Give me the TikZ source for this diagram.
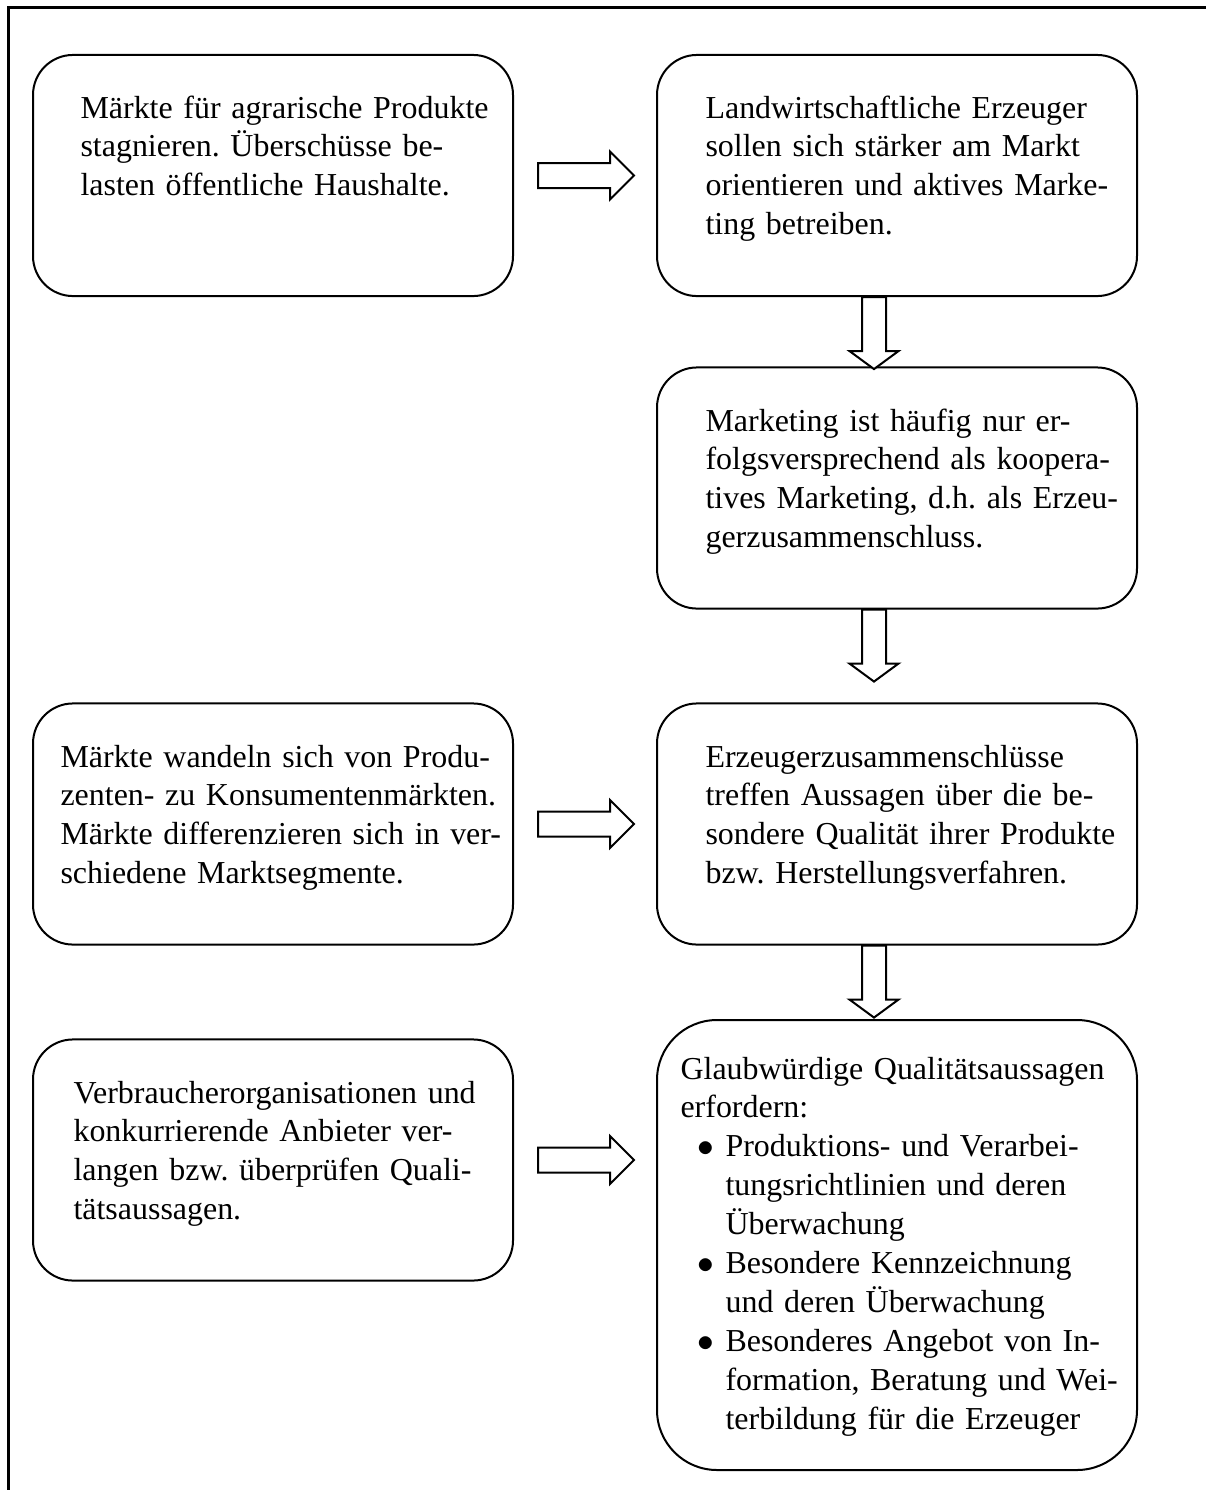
\documentclass[tikz,border=0pt]{standalone}
\usepackage{fontspec}
\setmainfont{Liberation Serif}
\usepackage{tikz}
\usetikzlibrary{arrows.meta,positioning}

\tikzset{
  box/.style={draw, line width=0.72pt, rounded corners=14.4pt,
    minimum width=172.8pt, minimum height=86.8pt, inner sep=0pt},
  bigbox/.style={box, rounded corners=21.6pt, minimum height=162pt},
  txt/.style={anchor=base west, align=left, text width=168pt, inner sep=0pt,
    font=\fontsize{11.5pt}{14pt}\selectfont\frenchspacing},
  hollow/.style={draw, line width=0.72pt, fill=white, line join=miter},
  rblock/.pic={\draw[hollow] (0,-12.5) -- (72,-12.5) -- (72,-24) -- (96,0)
    -- (72,24) -- (72,12.5) -- (0,12.5) -- cycle;},
  dblock/.pic={\draw[hollow] (-12,0) -- (-12,54) -- (-24.5,54) -- (0,72)
    -- (24.5,54) -- (12,54) -- (12,0) -- cycle;}
}

\begin{document}
\begin{tikzpicture}[x=0.36pt,y=-0.36pt]
    \useasboundingbox (0,0) rectangle (1206,1490);
    \draw [line width=1.08pt] (8,1490) -- (8,7) -- (1206,7);

    % boxes
    \node [box] (mkt) at (273,175.5) {};
    \node [box] (lw) at (897,175.5) {};
    \node [box] (koop) at (897,488) {};
    \node [box] (wandel) at (273,824) {};
    \node [box] (qual) at (897,824) {};
    \node [box] (verbr) at (273,1160) {};
    \node [bigbox] (glaub) at (897,1245) {};

    % texts
    \node [txt] (mkt-t) at (80,118) {Märkte für agrarische Produkte\\
      stagnieren. Überschüsse be-\\lasten öffentliche Haushalte.};
    \node [txt] (lw-t) at (705,118) {Landwirtschaftliche Erzeuger\\
      sollen sich stärker am Markt\\orientieren und aktives Marke-\\
      ting betreiben.};
    \node [txt] (koop-t) at (705,431) {Marketing ist häufig nur er-\\
      folgsversprechend als koopera-\\tives Marketing, d.h. als Erzeu-\\
      gerzusammenschluss.};
    \node [txt] (wandel-t) at (60,767) {Märkte wandeln sich von Produ-\\
      zenten- zu Konsumentenmärkten.\\Märkte differenzieren sich in ver-\\
      schiedene Marktsegmente.};
    \node [txt] (qual-t) at (705,767) {Erzeugerzusammenschlüsse\\
      treffen Aussagen über die be-\\sondere Qualität ihrer Produkte\\
      bzw. Herstellungsverfahren.};
    \node [txt] (verbr-t) at (73,1103) {Verbraucherorganisationen und\\
      konkurrierende Anbieter ver-\\langen bzw. überprüfen Quali-\\
      tätsaussagen.};
    \node [txt] (glaub-t) at (680,1079) {Glaubwürdige Qualitätsaussagen\\
      erfordern:\\
      \hspace*{6pt}\makebox[10.2pt][l]{$\bullet$}Produktions- und Verarbei-\\
      \hspace*{16.2pt}tungsrichtlinien und deren\\
      \hspace*{16.2pt}Überwachung\\
      \hspace*{6pt}\makebox[10.2pt][l]{$\bullet$}Besondere Kennzeichnung\\
      \hspace*{16.2pt}und deren Überwachung\\
      \hspace*{6pt}\makebox[10.2pt][l]{$\bullet$}Besonderes Angebot von In-\\
      \hspace*{16.2pt}formation, Beratung und Wei-\\
      \hspace*{16.2pt}terbildung für die Erzeuger};

    % hollow arrows
    \pic at ([xshift=8.64pt]mkt.east) {rblock};
    \pic at ([xshift=8.64pt]wandel.east) {rblock};
    \pic at ([xshift=8.64pt]verbr.east) {rblock};
    \pic at ([xshift=-8.28pt]lw.south) {dblock};
    \pic at ([xshift=-8.28pt]koop.south) {dblock};
    \pic at ([xshift=-8.28pt]qual.south) {dblock};
\end{tikzpicture}
\end{document}
